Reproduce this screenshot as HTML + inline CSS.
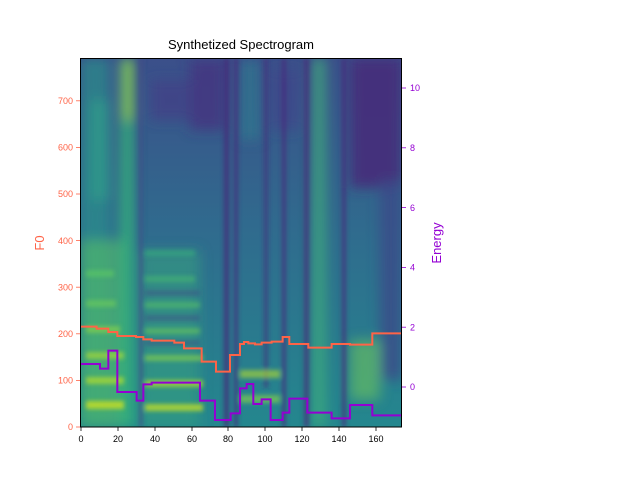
<!DOCTYPE html>
<html><head><meta charset="utf-8"><style>
html,body{margin:0;padding:0;background:#fff;}
svg{display:block;font-family:"Liberation Sans",sans-serif;}
</style></head><body>
<svg width="640" height="480" viewBox="0 0 640 480" xmlns="http://www.w3.org/2000/svg">
<defs>
<filter id="b" filterUnits="userSpaceOnUse" x="0" y="0" width="640" height="480"><feGaussianBlur stdDeviation="6"/></filter>
<filter id="b2" filterUnits="userSpaceOnUse" x="0" y="0" width="640" height="480"><feGaussianBlur stdDeviation="2"/></filter>
<clipPath id="c"><rect x="80" y="58" width="322" height="369"/></clipPath>
<linearGradient id="g" x1="0" y1="0" x2="0" y2="1">
<stop offset="0" stop-color="#3b4f8a"/><stop offset="0.5" stop-color="#2f6d8e"/><stop offset="1" stop-color="#24878e"/>
</linearGradient>
</defs>
<g clip-path="url(#c)">
<rect x="80" y="58" width="322" height="369" fill="url(#g)"/>
<g filter="url(#b)">
<rect x="80" y="58" width="30" height="369" fill="#2a8e8a" opacity="0.7"/>
<rect x="80" y="240" width="45" height="187" fill="#5ec962" opacity="0.5"/>
<rect x="120" y="58" width="14" height="369" fill="#35b779" opacity="0.8"/>
<rect x="124" y="60" width="8" height="60" fill="#b5de2b" opacity="0.7"/>
<rect x="140" y="250" width="60" height="177" fill="#3aa57e" opacity="0.5"/>
<rect x="190" y="60" width="35" height="70" fill="#45337f" opacity="0.8"/>
<rect x="150" y="80" width="40" height="40" fill="#424086" opacity="0.7"/>
<rect x="350" y="58" width="52" height="130" fill="#472c7a" opacity="0.9"/>
<rect x="380" y="180" width="22" height="200" fill="#3b4a8a" opacity="0.8"/>
<rect x="312" y="58" width="14" height="369" fill="#3fb07a" opacity="0.7"/>
<rect x="240" y="60" width="20" height="80" fill="#2f7a8e" opacity="0.7"/>
<rect x="270" y="70" width="30" height="60" fill="#40468a" opacity="0.7"/>
<rect x="350" y="340" width="30" height="60" fill="#7ad151" opacity="0.5"/>
<rect x="90" y="100" width="20" height="100" fill="#2fa38a" opacity="0.6"/>
</g>
<g filter="url(#b2)">
<rect x="224" y="58" width="5" height="369" fill="#46297a" opacity="0.8"/>
<rect x="234" y="58" width="4" height="369" fill="#46297a" opacity="0.7"/>
<rect x="264" y="58" width="4" height="330" fill="#46297a" opacity="0.6"/>
<rect x="282" y="58" width="4" height="369" fill="#46297a" opacity="0.7"/>
<rect x="304" y="58" width="5" height="369" fill="#46297a" opacity="0.7"/>
<rect x="342" y="58" width="4" height="369" fill="#46297a" opacity="0.7"/>
<rect x="139" y="58" width="4" height="369" fill="#404588" opacity="0.6"/>
<rect x="86" y="401" width="38" height="8" fill="#c8e020" opacity="0.8"/>
<rect x="86" y="377" width="38" height="7" fill="#b5de2b" opacity="0.7"/>
<rect x="86" y="352" width="38" height="7" fill="#addc30" opacity="0.65"/>
<rect x="86" y="326" width="34" height="7" fill="#8fd744" opacity="0.6"/>
<rect x="86" y="300" width="30" height="7" fill="#6ece58" opacity="0.6"/>
<rect x="86" y="270" width="28" height="7" fill="#5ec962" opacity="0.6"/>
<rect x="145" y="404" width="58" height="7" fill="#c8e020" opacity="0.75"/>
<rect x="145" y="380" width="58" height="7" fill="#b5de2b" opacity="0.7"/>
<rect x="145" y="355" width="58" height="6" fill="#8fd744" opacity="0.6"/>
<rect x="145" y="328" width="55" height="6" fill="#6ece58" opacity="0.55"/>
<rect x="145" y="302" width="55" height="6" fill="#5ec962" opacity="0.5"/>
<rect x="145" y="276" width="50" height="6" fill="#4ac16d" opacity="0.5"/>
<rect x="145" y="250" width="50" height="6" fill="#35b779" opacity="0.5"/>
<rect x="145" y="340" width="55" height="6" fill="#3b4f8a" opacity="0.5"/>
<rect x="145" y="315" width="55" height="6" fill="#3b4f8a" opacity="0.5"/>
<rect x="145" y="290" width="55" height="6" fill="#3b4f8a" opacity="0.5"/>
<rect x="240" y="370" width="40" height="8" fill="#b5de2b" opacity="0.6"/>
<rect x="240" y="395" width="40" height="8" fill="#8fd744" opacity="0.6"/>
</g>
<g transform="translate(60,280) scale(0.3333)" fill="none">
<polyline vector-effect="non-scaling-stroke" stroke="#ff6347" stroke-width="2" points="62,140 110,140 110,146 145,146 145,156 172,156 172,168 228,168 228,171 250,171 250,178 275,178 275,182 343,182 343,188 372,188 372,205 425,205 425,245 468,245 468,275 510,275 510,225 540,225 540,192 552,192 552,186 565,186 565,190 585,190 585,193 605,193 605,188 635,188 635,185 668,185 668,171 688,171 688,192 745,192 745,203 815,203 815,192 870,192 870,194 937,194 937,160 1030,160"/>
<polyline vector-effect="non-scaling-stroke" stroke="#9400d3" stroke-width="2" points="62,252 120,252 120,266 145,266 145,212 172,212 172,336 230,336 230,362 250,362 250,313 275,313 275,308 420,308 420,362 465,362 465,420 512,420 512,400 540,400 540,325 560,325 560,312 580,312 580,372 605,372 605,358 632,358 632,420 668,420 668,398 688,398 688,356 742,356 742,398 815,398 815,415 870,415 870,375 937,375 937,406 1030,406"/>
</g>
</g>
<rect x="80.5" y="58.5" width="321" height="368.5" fill="none" stroke="#000" stroke-width="1"/>
<text x="241" y="49" font-size="13" text-anchor="middle">Synthetized Spectrogram</text>
<g stroke="#000" stroke-width="0.8">
<line x1="81" y1="427" x2="81" y2="431"/><line x1="118" y1="427" x2="118" y2="431"/><line x1="155" y1="427" x2="155" y2="431"/><line x1="192" y1="427" x2="192" y2="431"/><line x1="228" y1="427" x2="228" y2="431"/><line x1="265" y1="427" x2="265" y2="431"/><line x1="302" y1="427" x2="302" y2="431"/><line x1="339" y1="427" x2="339" y2="431"/><line x1="376" y1="427" x2="376" y2="431"/>
</g>
<g font-size="9" text-anchor="middle">
<text x="81" y="442">0</text><text x="118" y="442">20</text><text x="155" y="442">40</text><text x="192" y="442">60</text><text x="228" y="442">80</text><text x="265" y="442">100</text><text x="302" y="442">120</text><text x="339" y="442">140</text><text x="376" y="442">160</text>
</g>
<g stroke="#ff6347" stroke-width="0.8">
<line x1="76" y1="427" x2="80" y2="427"/><line x1="76" y1="380.4" x2="80" y2="380.4"/><line x1="76" y1="333.8" x2="80" y2="333.8"/><line x1="76" y1="287.2" x2="80" y2="287.2"/><line x1="76" y1="240.6" x2="80" y2="240.6"/><line x1="76" y1="194" x2="80" y2="194"/><line x1="76" y1="147.4" x2="80" y2="147.4"/><line x1="76" y1="100.8" x2="80" y2="100.8"/>
</g>
<g font-size="9" text-anchor="end" fill="#ff6347">
<text x="73" y="430">0</text><text x="73" y="383.5">100</text><text x="73" y="337">200</text><text x="73" y="290.5">300</text><text x="73" y="244">400</text><text x="73" y="197">500</text><text x="73" y="150.5">600</text><text x="73" y="104">700</text>
</g>
<text transform="translate(44,243) rotate(-90)" font-size="13" text-anchor="middle" fill="#ff6347">F0</text>
<g stroke="#9400d3" stroke-width="0.8">
<line x1="402" y1="387" x2="406" y2="387"/><line x1="402" y1="327.2" x2="406" y2="327.2"/><line x1="402" y1="267.4" x2="406" y2="267.4"/><line x1="402" y1="207.6" x2="406" y2="207.6"/><line x1="402" y1="147.8" x2="406" y2="147.8"/><line x1="402" y1="88" x2="406" y2="88"/>
</g>
<g font-size="9" fill="#9400d3">
<text x="410" y="390">0</text><text x="410" y="330.5">2</text><text x="410" y="270.5">4</text><text x="410" y="211">6</text><text x="410" y="151">8</text><text x="410" y="91">10</text>
</g>
<text transform="translate(441,243) rotate(-90)" font-size="13" text-anchor="middle" fill="#9400d3">Energy</text>
</svg>
</body></html>
